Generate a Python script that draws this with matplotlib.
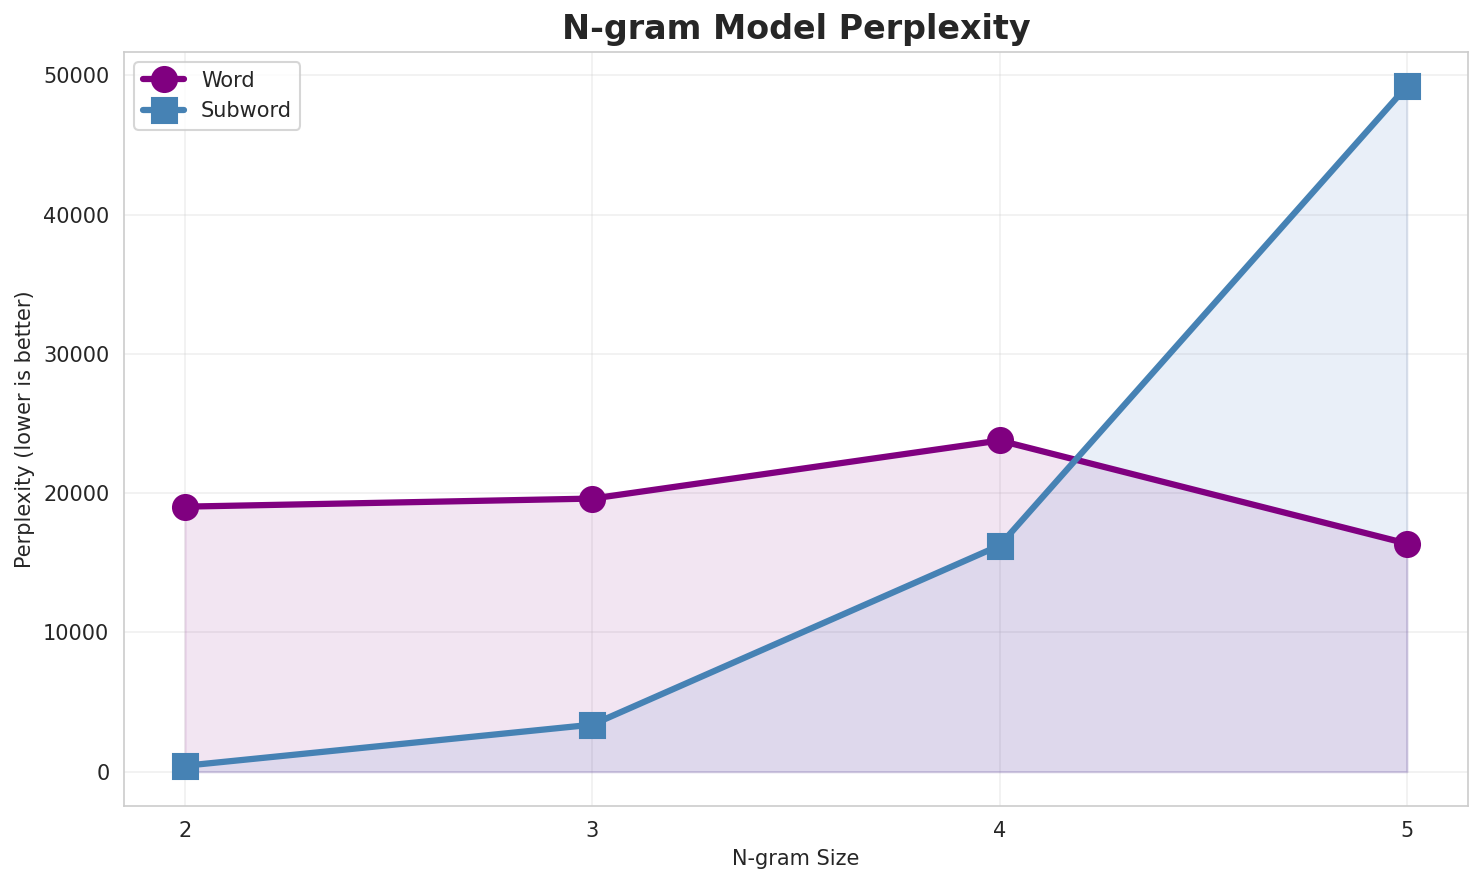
import matplotlib
matplotlib.use("Agg")
import matplotlib.pyplot as plt
import seaborn as sns

# n-gram sizes and perplexity values
ngram_sizes = [2, 3, 4, 5]
word_ppl = [19030, 19610, 23780, 16380]
subword_ppl = [430, 3380, 16240, 49210]

sns.set_style("whitegrid")
plt.rcParams['font.family'] = ['DejaVu Sans']

fig, ax = plt.subplots(figsize=(1484 / 150, 885 / 150), dpi=150)

ax.plot(ngram_sizes, word_ppl, marker="o", markersize=12, linewidth=3,
        color="purple", label="Word")
ax.fill_between(ngram_sizes, word_ppl, alpha=0.1, color="purple")

ax.plot(ngram_sizes, subword_ppl, marker="s", markersize=12, linewidth=3,
        color="steelblue", label="Subword")
ax.fill_between(ngram_sizes, subword_ppl, alpha=0.11, color="#3f6fc0")

ax.set_xticks(ngram_sizes)
ax.set_xlabel("N-gram Size")
ax.set_ylabel("Perplexity (lower is better)")
ax.set_title("N-gram Model Perplexity", fontsize=16, fontweight="bold")
ax.grid(True, alpha=0.3)
ax.legend(loc="upper left")

# axes box placed where the reference has it
fig.subplots_adjust(left=124 / 1484, right=1468 / 1484,
                    top=1 - 52 / 885, bottom=1 - 806 / 885)
plt.savefig("out.png")
plt.close()
